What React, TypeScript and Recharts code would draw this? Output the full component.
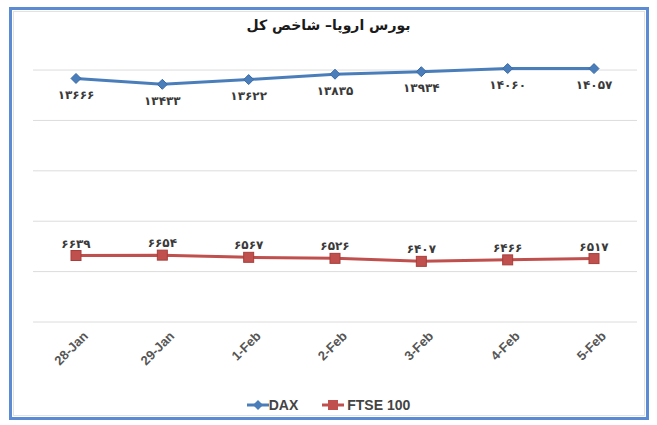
import React from "react";
import { LineChart, Line, XAxis, YAxis, CartesianGrid, LabelList } from "recharts";

const dates = ["28-Jan", "29-Jan", "1-Feb", "2-Feb", "3-Feb", "4-Feb", "5-Feb"];
const dax = [13666, 13433, 13622, 13835, 13934, 14060, 14057];
const ftse = [6639, 6654, 6567, 6526, 6407, 6466, 6517];
const gridValues = [4000, 6000, 8000, 10000, 12000, 14000];

const DAX_COLOR = "#4a7ebb";
const FTSE_COLOR = "#c0504d";

const data = dates.map((d, i) => ({ date: d, dax: dax[i], ftse: ftse[i] }));

// persian digits for the value labels
const fa = (v: number | string) =>
  String(v).replace(/\d/g, (d) => "۰۱۲۳۴۵۶۷۸۹"[+d]);

const Diamond = (props: any) => {
  const { cx, cy } = props;
  if (cx == null || cy == null) return null;
  return (
    <path
      d={`M${cx},${cy - 5} L${cx + 5},${cy} L${cx},${cy + 5} L${cx - 5},${cy} Z`}
      fill={DAX_COLOR}
      stroke="#3a6ba5"
      strokeWidth={1}
    />
  );
};

const Square = (props: any) => {
  const { cx, cy } = props;
  if (cx == null || cy == null) return null;
  return (
    <rect x={cx - 5} y={cy - 5} width={10} height={10} fill={FTSE_COLOR} stroke="#a83e3b" strokeWidth={1} />
  );
};

const DateTick = (props: any) => {
  const { x, y, payload } = props;
  return (
    <g transform={`translate(${x + 10},${y + 4})`}>
      <text
        transform="rotate(-45)"
        textAnchor="end"
        dy={4}
        fontSize={13}
        fontWeight={700}
        fill="#555"
        fontFamily="Liberation Sans, Arial, sans-serif"
      >
        {payload.value}
      </text>
    </g>
  );
};

const labelStyle = {
  fontSize: 12,
  fontWeight: 700,
  fill: "#3a3a3a",
  fontFamily: "DejaVu Sans, sans-serif",
};

export default function App() {
  return (
    <div style={{ position: "absolute", left: 0, top: 0, width: 657, height: 425, background: "#fff" }}>
      <div
        style={{
          position: "absolute",
          left: 9,
          top: 7,
          width: 640,
          height: 413,
          border: "3px solid #5b8bd3",
          boxSizing: "border-box",
        }}
      >
        <div
          style={{
            position: "absolute",
            inset: 1,
            border: "1px solid #e2e2e2",
          }}
        />
      </div>
      <div
        style={{
          position: "absolute",
          left: 0,
          top: 17,
          width: 657,
          textAlign: "center",
          direction: "rtl",
          fontFamily: "DejaVu Sans, sans-serif",
          fontWeight: 700,
          fontSize: 14,
          color: "#1a1a1a",
        }}
      >
        بورس اروپا– شاخص کل
      </div>
      <div style={{ position: "absolute", left: 0, top: 0 }}>
        <LineChart
          width={657}
          height={425}
          data={data}
          margin={{ top: 65, right: 20, left: 33, bottom: 43 }}
        >
          <CartesianGrid vertical={false} stroke="#dcdcdc" horizontalValues={gridValues} />
          <XAxis
            dataKey="date"
            axisLine={false}
            tickLine={false}
            height={60}
            padding={{ left: 43, right: 43 }}
            tick={<DateTick />}
            interval={0}
          />
          <YAxis hide domain={[4000, 14200]} ticks={gridValues} />
          <Line
            dataKey="dax"
            stroke={DAX_COLOR}
            strokeWidth={3}
            dot={<Diamond />}
            activeDot={false}
            isAnimationActive={false}
          >
            <LabelList dataKey="dax" position="bottom" offset={12} formatter={fa} style={labelStyle} />
          </Line>
          <Line
            dataKey="ftse"
            stroke={FTSE_COLOR}
            strokeWidth={3}
            dot={<Square />}
            activeDot={false}
            isAnimationActive={false}
          >
            <LabelList dataKey="ftse" position="top" offset={8} formatter={fa} style={labelStyle} />
          </Line>
        </LineChart>
      </div>
      <div
        style={{
          position: "absolute",
          left: 0,
          top: 397,
          width: 657,
          display: "flex",
          justifyContent: "center",
          gap: 24,
          fontFamily: "Liberation Sans, Arial, sans-serif",
          fontWeight: 700,
          fontSize: 14,
          color: "#444",
        }}
      >
        <span style={{ display: "flex", alignItems: "center" }}>
          <svg width={22} height={12}>
            <line x1={0} y1={6} x2={22} y2={6} stroke={DAX_COLOR} strokeWidth={3} />
            <path d="M11,1 L16,6 L11,11 L6,6 Z" fill={DAX_COLOR} />
          </svg>
          DAX
        </span>
        <span style={{ display: "flex", alignItems: "center" }}>
          <svg width={22} height={12}>
            <line x1={0} y1={6} x2={22} y2={6} stroke={FTSE_COLOR} strokeWidth={3} />
            <rect x={6} y={1} width={10} height={10} fill={FTSE_COLOR} />
          </svg>
          <span style={{ marginLeft: 3 }}>FTSE 100</span>
        </span>
      </div>
    </div>
  );
}
